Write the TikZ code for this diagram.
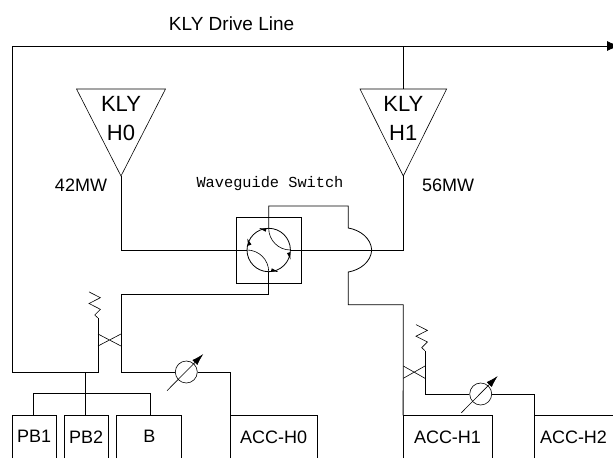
\documentclass[tikz,border=0pt]{standalone}
\usepackage{fontspec}
\setmainfont{Liberation Sans}
\newfontfamily\gothicfont{Liberation Mono}
\usetikzlibrary{arrows.meta,calc}
\tikzset{
	wire/.style={line width=0.8pt},
	thinwire/.style={line width=0.6pt},
	tag/.style={font=\fontsize{18}{18}\selectfont,inner sep=0pt},
	cavity/.style={tag,minimum height=42.3pt,inner sep=0pt},
	shifter/.style={circle,draw,thinwire,minimum size=22pt,inner sep=0pt},
}
\newcommand{\opencavity}[1]{\draw[wire] (#1.south west)--(#1.north west)--(#1.north east)--(#1.south east);}
\begin{document}
\begin{tikzpicture}[x=1pt,y=-1pt]
		\useasboundingbox (0,0) rectangle (613,458);
		\def\rs{21.7}%Bán kính công tắc
		\coordinate (sw) at (268.7,250);
		\coordinate (swT) at (268.7,228.3);
		\coordinate (swB) at (268.7,271.7);
		\coordinate (swL) at (247,250);
		\coordinate (swR) at (290.4,250);
		% Drive line
		\coordinate (dl) at (12.3,46);
		\coordinate (dlE) at (620,46);
		\coordinate (dlH) at (403.3,46);
		\node[tag,font=\fontsize{19}{19}\selectfont] (drive) at (231.6,24) {KLY Drive Line};
		\draw[wire,-{Latex[length=13pt,width=10pt]}] (dl)--(dlE);
		% Klystrons
		\foreach \n/\x/\l in {0/121/76.5,1/403.3/360}{
			\coordinate (kt\n) at (\x,176);
			\coordinate (kl\n) at (\l,89);
			\coordinate (kr\n) at ({2*\x-\l},89);
			\draw[thinwire] (kl\n)--(kr\n)--(kt\n)--cycle;
			\node[tag,font=\fontsize{22}{22}\selectfont] (kly\n) at (\x,104) {KLY};
			\node[tag,font=\fontsize{22}{22}\selectfont] (h\n) at (\x,133) {H\n};
		}
		\node[tag] (p0) at (81,185) {42MW};
		\node[tag] (p1) at (448,185) {56MW};
		\node[inner sep=0pt,font=\gothicfont\fontsize{15.3}{15.3}\selectfont] (wgs) at (270,184) {Waveguide Switch};
		\coordinate (kh1) at (403.3,89);
		\draw[thinwire] (dlH)--(kh1);
		% Switch
		\node[draw,wire,minimum width=64.5pt,minimum height=66pt,inner sep=0pt] (box) at (268.8,250) {};
		\draw[wire] (sw) circle (\rs);
		\draw[thinwire] (swT) arc (180:90:\rs);
		\draw[thinwire] (swL) arc (-90:0:\rs);
		\foreach \a in {-106,-158,16,74}{
			\fill[shift={($(sw)+(\a:\rs)$)},rotate=\a-90] (3.5,0)--(-3.5,1.7)--(-3.5,-1.7)--cycle;
		}
		\coordinate (kb0) at (121,250);
		\coordinate (kb1) at (403.3,250);
		\draw[thinwire] (kt0)--(kb0)--(swL);
		\draw[thinwire] (kt1)--(kb1)--(swR);
		% Upper arm with the bend
		\coordinate (u1) at (268.7,206);
		\coordinate (u2) at (348.3,206);
		\coordinate (u3) at (348.3,228);
		\coordinate (u4) at (348.3,272);
		\coordinate (u5) at (348.3,304.7);
		\coordinate (u6) at (403.3,304.7);
		\draw[wire] (swT)--(u1)--(u2)--(u3) .. controls (360,230) and (371,238) .. (371.7,250) .. controls (371,262) and (360,270) .. (u4)--(u5)--(u6);
		% Cavities
		\foreach \c/\x/\w/\t in {pba/34.2/43/PB1,pbb/86.2/43/PB2,bb/149.3/64.7/B,acca/273.6/86.2/ACC-H0,accb/447.5/88.4/ACC-H1,accc/573.5/78.4/ACC-H2}{
			\node[cavity,minimum width=\w pt] (\c) at (\x,436.8) {\t};
			\opencavity{\c}
		}
		% Left side
		\coordinate (l1) at (12.3,372);
		\coordinate (l2) at (85.7,372);
		\coordinate (l3) at (98,372);
		\coordinate (l4) at (98,346);
		\coordinate (l5) at (98,334);
		\coordinate (l6) at (98,318);
		\coordinate (r1) at (121,294);
		\coordinate (r2) at (121,334);
		\coordinate (r3) at (121,346);
		\coordinate (r4) at (121,372);
		\coordinate (sbB) at (268.7,294);
		\draw[wire] (dl)--(l1)--(l3)--(l6);
		\node[shifter] (pha) at (186.3,372) {};
		\draw[wire] (swB)--(sbB)--(r1)--(r4)--(pha);
		\draw[thinwire] (l5)--(r3) (l4)--(r2);
		\draw[thinwire] (l6)--++(-3.3,-3)--++(5.7,-5.7)--++(-11.4,-5.8)--++(11.4,-5.8)--++(-11.4,-5.8);
		\coordinate (bus1) at (33.7,393.7);
		\coordinate (bus2) at (150.3,393.7);
		\draw[wire] (l2)--(l2|-pbb.north);
		\draw[wire] (bus1|-pba.north)--(bus1)--(bus2)--(bus2|-bb.north);
		\draw[wire] (pha)--(acca.north west|-pha)--(acca.north west);
		% Right side
		\coordinate (q1) at (425,394);
		\coordinate (q2) at (425,378.3);
		\coordinate (q3) at (425,366);
		\coordinate (q4) at (425,350.7);
		\coordinate (q5) at (403.3,366);
		\coordinate (q6) at (403.3,378.3);
		\draw[wire] (u6)--(accb.north west);
		\node[shifter] (phb) at (480.7,394) {};
		\draw[wire] (phb)--(accc.north west|-phb)--(accc.north west);
		\draw[wire] (phb)--(q1)--(q4);
		\draw[thinwire] (q3)--(q6) (q2)--(q5);
		\draw[thinwire] (q4)--++(-3.3,-3)--++(5.7,-5.7)--++(-11.4,-5.8)--++(11.4,-5.8)--++(-11.4,-5.8);
		\foreach \s in {pha,phb}{
			\draw[thinwire,-{Latex[length=12pt,width=7pt]}] ($(\s)+(-19.3,18.7)$)--($(\s)+(17,-18)$);
		}
		\end{tikzpicture}
\end{document}
